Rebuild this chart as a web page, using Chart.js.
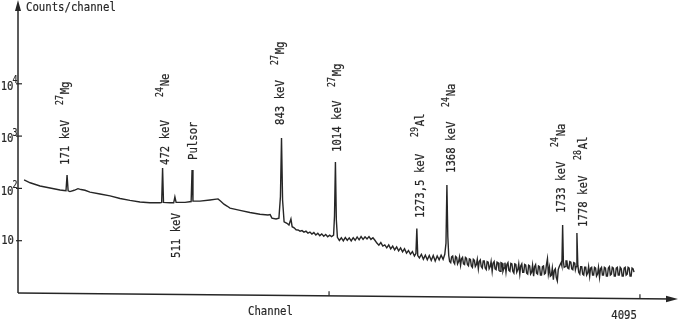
<!DOCTYPE html>
<html><head><meta charset="utf-8">
<script src="https://cdn.jsdelivr.net/npm/chart.js@4/dist/chart.umd.min.js"></script>
<style>html,body{margin:0;padding:0;background:#fff;}canvas{display:block;}</style>
</head><body>
<div style="width:679px;height:327px;position:relative"><canvas id="c" width="679" height="327"></canvas></div>
<script>
// ---- data (channel, counts per channel) ----
const lowChannels = [40,80,145,211,277,303,316,323,330,342,370,395,415,441,474,540,606,672,737,803,869,935,946,952,958,1001,1025,1033,1041,1100,1140,1146,1152,1198,1264,1317,1335,1356,1376,1396,1462,1527,1593,1646,1660,1672,1699,1718,1728,1735,1742,1752,1771,1784,1797,1805,1818,1831,1844,1857,1870,1883,1896,1909,1922,1935,1948,1961,1974,1987,2000,2013,2026,2039,2052,2065,2078,2084,2090,2096,2103,2116,2129,2142,2155,2168,2181,2194,2207,2220,2233,2246,2259,2272,2285,2298,2311,2324,2337,2350,2363,2376,2389,2402,2415,2428,2441,2454,2467,2480,2493,2506,2519,2532,2545,2558,2571,2584,2597,2610,2620,2626,2632,2643,2656,2669,2682,2695,2708,2721,2734,2747,2760,2773,2786,2799,2810,2818,2824,2830];
const lowCounts = [145,128,111,102,93,91,90,180,90,87,92,99,95,92,85,78,72,64,59,55,53,53,54,245,54,53,53,69,54,54,56,225,57,57,60,63,57,50,46,42,38,34.6,32,31,31.5,27,26,27,70,920,60,23,21.5,20,26,18.5,17.6,16.2,16.0,15.2,15.6,14.6,15.2,14.0,14.6,13.4,14.3,12.9,13.9,12.5,13.5,12.2,13.1,11.9,12.8,12.0,12.8,30,320,25,11.6,10.1,11.4,9.9,11.5,10.2,11.3,9.9,11.4,10.2,11.8,10.4,12.0,10.6,11.9,10.8,12.0,10.6,11.4,10.2,9.0,8.2,9.2,7.9,8.3,7.3,8.3,7.0,7.9,6.7,7.6,6.4,7.3,6.1,7.0,5.8,6.5,5.5,6.2,5.1,5.7,17,5.2,4.7,5.5,4.4,5.3,4.3,5.2,4.2,5.2,4.1,5.1,4.3,5.3,4.4,5.5,9,116,12];
const highChannels = [2836,2842,2849,2855,2862,2868,2875,2881,2888,2894,2901,2907,2914,2920,2927,2933,2940,2946,2953,2959,2966,2972,2979,2985,2992,2998,3005,3011,3018,3024,3031,3037,3044,3050,3057,3063,3070,3076,3083,3089,3096,3102,3109,3115,3122,3128,3135,3141,3148,3154,3161,3167,3174,3180,3187,3193,3200,3206,3213,3219,3226,3232,3239,3245,3252,3258,3265,3271,3278,3284,3291,3297,3304,3310,3317,3323,3330,3336,3343,3349,3356,3362,3369,3375,3382,3388,3395,3401,3408,3414,3421,3427,3434,3440,3447,3453,3460,3466,3473,3479,3486,3492,3499,3505,3512,3518,3525,3531,3538,3544,3551,3557,3564,3570,3576,3581,3586,3591,3596,3602,3608,3614,3620,3627,3633,3640,3646,3653,3659,3666,3670,3675,3680,3686,3692,3699,3705,3712,3718,3725,3731,3738,3744,3751,3757,3764,3770,3777,3783,3790,3796,3803,3809,3816,3822,3829,3835,3842,3848,3855,3861,3868,3874,3881,3887,3894,3900,3907,3913,3920,3926,3933,3939,3946,3952,3959,3965,3972,3978,3985,3991,3998,4004,4011,4017,4024,4030,4037,4043,4050,4056];
const highCounts = [5.2,4.0,3.8,4.9,5.1,3.9,3.6,5.0,4.8,3.6,4.0,4.9,3.4,4.5,4.8,3.6,3.5,4.8,4.6,3.5,3.3,4.5,4.4,3.3,3.1,4.4,4.2,3.2,3.5,4.4,2.9,4.0,4.3,3.2,3.0,4.1,4.1,3.0,2.8,4.0,3.9,2.9,3.2,4.0,2.6,3.7,4.0,2.9,2.8,3.9,3.8,2.7,2.6,3.8,3.7,2.6,3.0,3.8,2.5,3.5,3.8,2.7,2.6,3.7,3.6,2.6,2.4,3.6,3.5,2.5,2.8,3.6,2.3,3.3,3.6,2.5,2.5,3.5,3.4,2.4,2.3,3.4,3.3,2.3,2.5,3.4,2.1,3.2,3.5,2.4,2.3,3.3,3.2,2.2,2.2,3.2,3.3,2.3,2.4,3.4,4.5,2.3,3.1,2.1,2.2,3.0,1.8,2.7,2.9,2.0,1.7,2.8,3.2,3.5,3.8,3.3,20,4.0,3.1,3.2,4.1,4.1,3.0,2.9,4.0,3.9,2.9,2.8,3.8,3.7,2.8,3.2,14,3.4,2.5,2.3,3.2,3.2,2.3,2.2,3.1,3.1,2.2,2.4,3.2,2.1,3.0,3.1,2.2,2.2,3.1,3.0,2.1,2.3,3.1,2.0,2.9,3.1,2.2,2.2,3.1,3.0,2.1,2.1,3.0,3.2,2.2,2.3,3.1,3.0,2.1,2.1,3.0,3.1,2.2,2.2,3.1,2.9,2.1,2.1,3.0,3.1,2.2,2.3,3.1,3.0,2.1,2.1,3.0,2.9,2.5];

const yTickValues = [10, 100, 1000, 10000];
const yTickExponents = ['', '2', '3', '4'];
const xTickValues = [2048, 4095];
const xTickLabels = ['', '4095'];

const peakChannels = [323, 952, 1146, 1033, 1735, 2090, 2626, 2824, 3586, 3680];
const peakEnergyLabels = ['171 keV','472 keV','Pulsor','511 keV','843 keV','1014 keV','1273,5 keV','1368 keV','1733 keV','1778 keV'];
const peakIsotopeMass = ['27','24','','','27','27','29','24','24','28'];
const peakIsotopeSymbol = ['Mg','Ne','','','Mg','Mg','Al','Na','Na','Al'];

// ---- label layout (pixels) ----
const labelLayout = [
  {dx:-1, e:165, iso:105},
  {dx:3.5, e:165, iso:97},
  {dx:2, e:160, iso:null},
  {dx:2, e:258, iso:null},
  {dx:-0.5, e:125, iso:65},
  {dx:2, e:152, iso:87},
  {dx:4, e:218, iso:137},
  {dx:5, e:173, iso:107},
  {dx:-1.5, e:213, iso:147},
  {dx:7, e:227, iso:160}
];

const FONT = '"DejaVu Sans Mono", "Liberation Mono", monospace';
const INK = '#262626';
const SX = 0.82;

function paint(ctx, s, x, y) {
  ctx.fillText(s, x, y);
  ctx.strokeText(s, x, y);
}

function txt(ctx, s, x, y, size, align, base) {
  ctx.save();
  ctx.translate(x, y);
  ctx.scale(SX, 1);
  ctx.font = size + 'px ' + FONT;
  ctx.textAlign = align; ctx.textBaseline = base;
  ctx.lineWidth = 0.2;
  paint(ctx, s, 0, 0);
  ctx.restore();
}

const axesPlugin = {
  id: 'axesPlugin',
  afterDraw(chart) {
    const ctx = chart.ctx;
    const xs = chart.scales.x, ys = chart.scales.y;
    const a = chart.chartArea;
    const x0 = a.left, y0 = a.bottom;
    const slant = 6;
    const axisY = (px) => y0 + (px - x0) / (a.right - x0) * slant;
    ctx.save();
    ctx.strokeStyle = INK; ctx.fillStyle = INK; ctx.lineWidth = 1.5;
    // y axis
    ctx.beginPath(); ctx.moveTo(x0, y0); ctx.lineTo(x0, a.top + 4); ctx.stroke();
    ctx.beginPath(); ctx.moveTo(x0, a.top); ctx.lineTo(x0 - 3, a.top + 11); ctx.lineTo(x0 + 3, a.top + 11); ctx.closePath(); ctx.fill();
    // x axis
    const xr = a.right;
    ctx.beginPath(); ctx.moveTo(x0, y0); ctx.lineTo(xr - 4, axisY(xr - 4)); ctx.stroke();
    ctx.beginPath(); ctx.moveTo(xr + 1, axisY(xr)); ctx.lineTo(xr - 11, axisY(xr) - 3.2); ctx.lineTo(xr - 11, axisY(xr) + 3.2); ctx.closePath(); ctx.fill();
    // y ticks
    yTickValues.forEach((v, i) => {
      const py = ys.getPixelForValue(v);
      ctx.lineWidth = 1.2;
      ctx.beginPath(); ctx.moveTo(x0 - 2, py); ctx.lineTo(x0 + 4, py); ctx.stroke();
      if (yTickExponents[i]) {
        txt(ctx, '10', 13.5, py + 3, 13, 'right', 'middle');
        txt(ctx, yTickExponents[i], 12.5, py - 3, 10, 'left', 'middle');
      } else {
        txt(ctx, '10', 14, py, 13, 'right', 'middle');
      }
    });
    // x ticks
    xTickValues.forEach((v, i) => {
      const px = xs.getPixelForValue(v);
      const ay = axisY(px);
      ctx.lineWidth = 1.2;
      ctx.beginPath(); ctx.moveTo(px, ay); ctx.lineTo(px, ay - 4.5); ctx.stroke();
      if (xTickLabels[i]) txt(ctx, xTickLabels[i], px - 3, ay + 17, 13, 'right', 'middle');
    });
    // axis titles
    txt(ctx, 'Counts/channel', 26, 8, 13, 'left', 'middle');
    txt(ctx, 'Channel', 248, 312, 13, 'left', 'middle');
    // peak labels (vertical)
    peakChannels.forEach((ch, i) => {
      const L = labelLayout[i];
      const cx = xs.getPixelForValue(ch) + L.dx;
      ctx.save();
      ctx.translate(cx, L.e);
      ctx.rotate(-Math.PI / 2);
      ctx.scale(SX, 1);
      ctx.lineWidth = 0.2;
      ctx.font = '13px ' + FONT; ctx.textAlign = 'left'; ctx.textBaseline = 'middle';
      paint(ctx, peakEnergyLabels[i], 0, 0);
      ctx.restore();
      if (peakIsotopeSymbol[i]) {
        ctx.save();
        ctx.translate(cx, L.iso);
        ctx.rotate(-Math.PI / 2);
        ctx.scale(SX, 1);
        ctx.lineWidth = 0.2;
        ctx.textAlign = 'left'; ctx.textBaseline = 'middle';
        ctx.font = '10px ' + FONT;
        paint(ctx, peakIsotopeMass[i], 0, -5.5);
        const w = ctx.measureText(peakIsotopeMass[i]).width + 1;
        ctx.font = '13px ' + FONT;
        paint(ctx, peakIsotopeSymbol[i], w, 0);
        ctx.restore();
      }
    });
    ctx.restore();
  }
};

const channels = lowChannels.concat(highChannels);
const counts = lowCounts.concat(highCounts);

new Chart(document.getElementById('c').getContext('2d'), {
  type: 'line',
  data: { datasets: [{
    data: channels.map((c, i) => ({ x: c, y: counts[i] })),
    borderColor: INK, borderWidth: 1.4, pointRadius: 0, tension: 0, fill: false
  }] },
  options: {
    responsive: false, animation: false, devicePixelRatio: 1,
    layout: { padding: { left: 18, right: 2, top: 0, bottom: 34 } },
    scales: {
      x: { type: 'linear', min: 0, max: 4339, display: false },
      y: { type: 'logarithmic', min: 1, max: 400000, display: false }
    },
    plugins: { legend: { display: false }, tooltip: { enabled: false } }
  },
  plugins: [axesPlugin]
});
</script>
</body></html>
